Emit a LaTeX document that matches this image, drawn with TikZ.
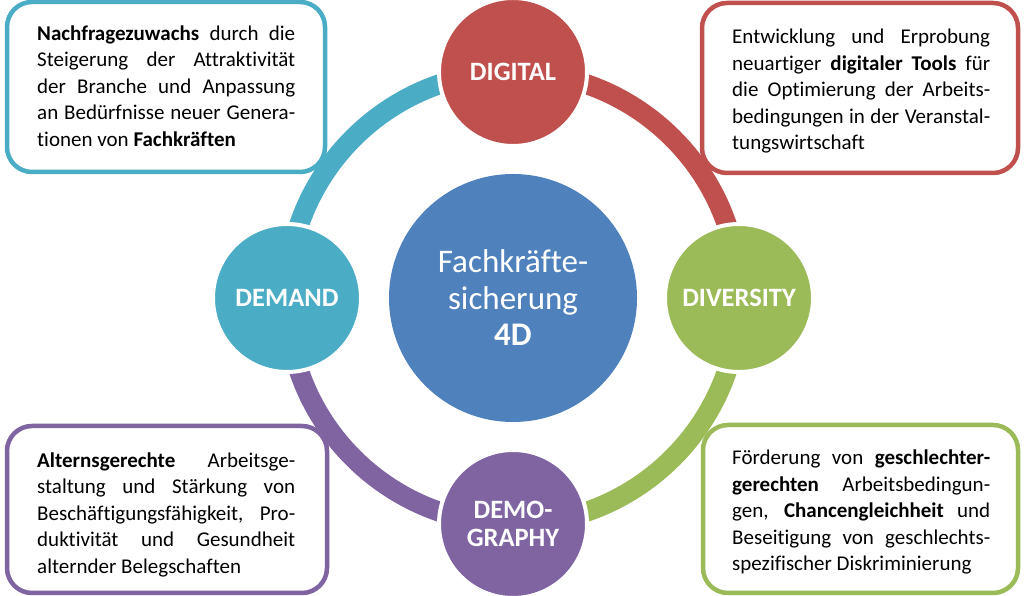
\documentclass[tikz,border=0pt]{standalone}
\usepackage{fontspec}
\setmainfont{Carlito}[Ligatures={NoCommon}]
\definecolor{ccyan}{HTML}{4BACC6}
\definecolor{cred}{HTML}{C0504D}
\definecolor{cgreen}{HTML}{9BBB59}
\definecolor{cpurple}{HTML}{8064A2}
\definecolor{cblue}{HTML}{4F81BD}
\newcommand{\jline}[1]{\makebox[258pt][s]{#1}\par}
\newcommand{\lline}[1]{\makebox[258pt][l]{#1}}
\newcommand{\boxtext}[1]{\parbox[t]{258pt}{\fontsize{21}{26.5}\selectfont #1}}
\begin{document}
\begin{tikzpicture}[x=1pt,y=1pt,
  ring/.style={line width=20pt},
  infobox/.style={line width=4.5pt, rounded corners=25pt, fill=white},
  smallc/.style={circle, minimum size=148pt, inner sep=0pt, draw=white, line width=4pt,
     text=white, align=center, font=\fontsize{26.5}{28.5}\selectfont\bfseries},
  bigc/.style={circle, minimum size=248pt, inner sep=0pt, fill=cblue,
     text=white, align=center, font=\fontsize{33}{36.5}\selectfont},
  infotext/.style={anchor=base west, inner sep=0pt, text=black}
]
\useasboundingbox (0,0) rectangle (1024,596);
\fill[white] (0,0) rectangle (1024,596);
\coordinate (cen) at (513,298);
% ring
\draw[ring, ccyan]   (cen) ++(180:226) arc[start angle=180, end angle=90, radius=226pt];
\draw[ring, cred]    (cen) ++(90:226)  arc[start angle=90, end angle=0, radius=226pt];
\draw[ring, cgreen]  (cen) ++(0:226)   arc[start angle=0, end angle=-90, radius=226pt];
\draw[ring, cpurple] (cen) ++(-90:226) arc[start angle=-90, end angle=-180, radius=226pt];
% boxes
\draw[infobox, draw=ccyan]   (7,424) rectangle (325,594);
\draw[infobox, draw=cred]    (702,423) rectangle (1018,593);
\draw[infobox, draw=cpurple] (7,3) rectangle (327,170);
\draw[infobox, draw=cgreen]  (703,3) rectangle (1018,171);
% circles
\node[bigc] (center) at (cen) {Fachkräfte-\\sicherung\\\textbf{4D}};
\node[smallc, fill=cred]    (digital)   at (513,524) {DIGITAL};
\node[smallc, fill=cgreen]  (diversity) at (739,298) {DIVERSITY};
\node[smallc, fill=cpurple] (demography) at (513,72) {DEMO-\\GRAPHY};
\node[smallc, fill=ccyan]   (demand)    at (287,298) {DEMAND};
% texts
\node[infotext] (tdemand) at (37,555.5) {\boxtext{%
\jline{\textbf{Nachfragezuwachs} durch die}
\jline{Steigerung der Attraktivität}
\jline{der Branche und Anpassung}
\jline{an Bedürfnisse neuer Genera-}
\lline{tionen von \textbf{Fachkräften}}}};
\node[infotext] (tdigital) at (732,552) {\boxtext{%
\jline{Entwicklung und Erprobung}
\jline{neuartiger \textbf{digitaler Tools} für}
\jline{die Optimierung der Arbeits-}
\jline{bedingungen in der Veranstal-}
\lline{tungswirtschaft}}};
\node[infotext] (tdemography) at (37,128.5) {\boxtext{%
\jline{\textbf{Alternsgerechte} Arbeitsge-}
\jline{staltung und Stärkung von}
\jline{Beschäftigungsfähigkeit, Pro-}
\jline{duktivität und Gesundheit}
\lline{alternder Belegschaften}}};
\node[infotext] (tdiversity) at (732,131) {\boxtext{%
\jline{Förderung von \textbf{geschlechter-}}
\jline{\textbf{gerechten} Arbeitsbedingun-}
\jline{gen, \textbf{Chancengleichheit} und}
\jline{Beseitigung von geschlechts-}
\lline{spezifischer Diskriminierung}}};
\end{tikzpicture}
\end{document}
